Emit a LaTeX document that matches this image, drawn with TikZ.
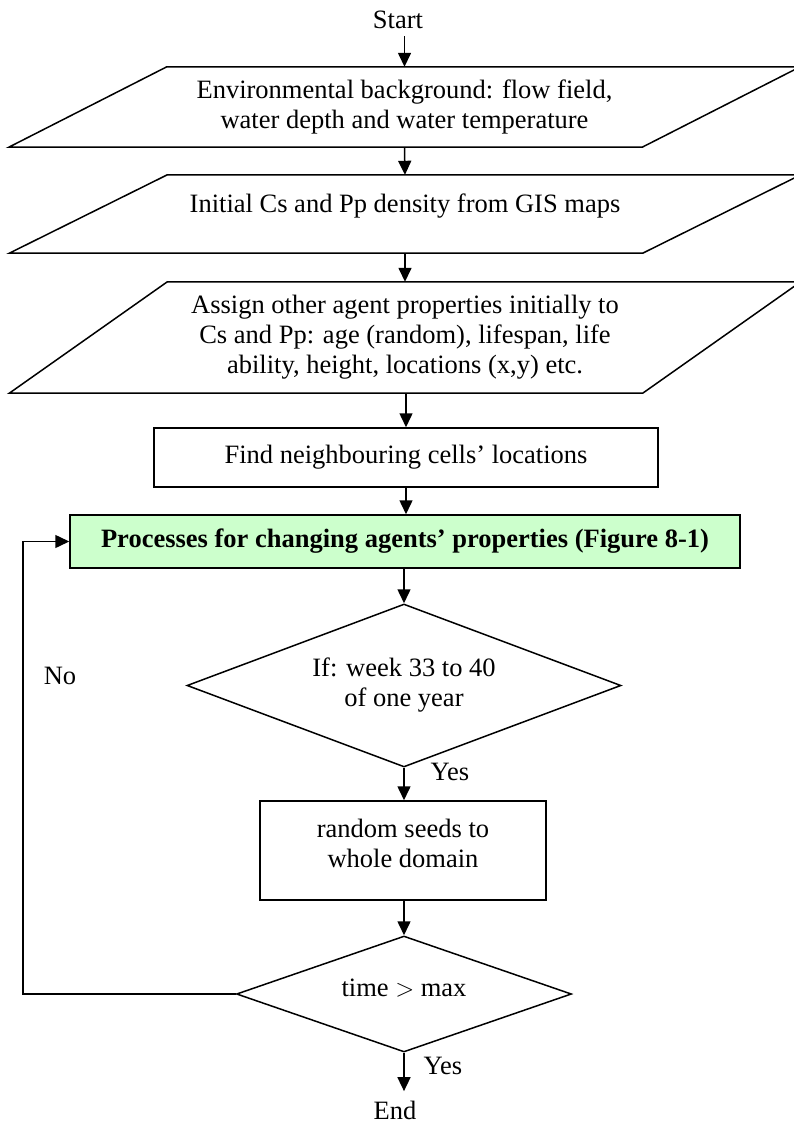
\documentclass[tikz,border=0pt]{standalone}
\usepackage{fontspec}
\setmainfont{Liberation Serif}
\usetikzlibrary{shapes.geometric,arrows.meta,calc}
\definecolor{procgreen}{HTML}{CCFFCC}

% slanted input/output box around an invisible rectangle node
\newcommand\slantbox[2]{%
  \draw[flowline] ($(#1.south west)+(-#2,0)$) -- ($(#1.south east)+(-#2,0)$)
    -- ($(#1.north east)+(#2,0)$) -- ($(#1.north west)+(#2,0)$) -- cycle;}

\begin{document}
\begin{tikzpicture}[x=1pt,y=-1pt,
  every node/.style={font=\fontsize{26.5}{30}\selectfont, align=center},
  flowline/.style={draw=black, line width=1.5pt},
  arr/.style={line width=1.5pt, -{Triangle[length=14pt,width=13pt]}},
  iobox/.style={minimum width=633pt, inner sep=0pt},
  stepbox/.style={draw=black, line width=1.5pt, inner sep=0pt},
  decision/.style={diamond, draw=black, line width=1.5pt, inner sep=0pt},
  lbl/.style={inner sep=0pt}
]
\useasboundingbox (0,0) rectangle (793,1124);

% terminals
\node (start) at (398,20) {Start};
\node (end) at (395,1110) {End};

% input boxes
\node[iobox, minimum height=80pt] (p1) at (404.5,107)
  {Environmental background: flow field,\\water depth and water temperature};
\slantbox{p1}{79}
\node[iobox, minimum height=78pt] (p2) at (405,214)
  {Initial Cs and Pp density from GIS maps\\[-8pt]};
\slantbox{p2}{79}
\node[iobox, minimum height=111pt] (p3) at (405,337.5)
  {Assign other agent properties initially to\\Cs and Pp: age (random), lifespan, life\\ability, height, locations (x,y) etc.};
\slantbox{p3}{79}

% process steps
\node[stepbox, minimum width=504pt, minimum height=59pt] (nbr) at (406,457.5)
  {Find neighbouring cells’ locations};
\node[stepbox, fill=procgreen, minimum width=670pt, minimum height=53pt] (proc) at (405,541.5)
  {\bfseries Processes for changing agents’ properties (Figure 8-1)};
\node[decision, aspect=2.66, minimum width=434pt, minimum height=163pt] (d1) at (404,685.5)
  {If: week 33 to 40\\of one year};
\node[stepbox, minimum width=286pt, minimum height=99pt] (seed) at (403,850.5)
  {random seeds to\\whole domain\\[-16pt]};
\node[decision, aspect=2.89, minimum width=335pt, minimum height=116pt] (d2) at (404,994)
  {time $>$ max\\[-18pt]};

% labels
\node[lbl] (nolbl) at (60,676) {No};
\node[lbl] (yes1) at (450,772) {Yes};
\node[lbl] (yes2) at (443,1066) {Yes};

% connectors
\coordinate (loop) at (23,994);
\draw[arr, shorten <=4pt] (p1.north |- start.south) -- (p1.north);
\draw[arr] (p1.south) -- (p2.north);
\draw[arr] (p2.south) -- (p3.north);
\draw[arr] (p3.south -| nbr.north) -- (nbr.north);
\draw[arr] (nbr.south) -- (nbr.south |- proc.north);
\draw[arr] (proc.south -| d1.north) -- (d1.north);
\draw[arr] (d1.south) -- (d1.south |- seed.north);
\draw[arr] (seed.south -| d2.north) -- (d2.north);
\draw[arr, shorten >=6pt] (d2.south) -- (d2.south |- end.north);
\draw[arr] (d2.west) -- (loop) |- (proc.west);
\end{tikzpicture}
\end{document}
